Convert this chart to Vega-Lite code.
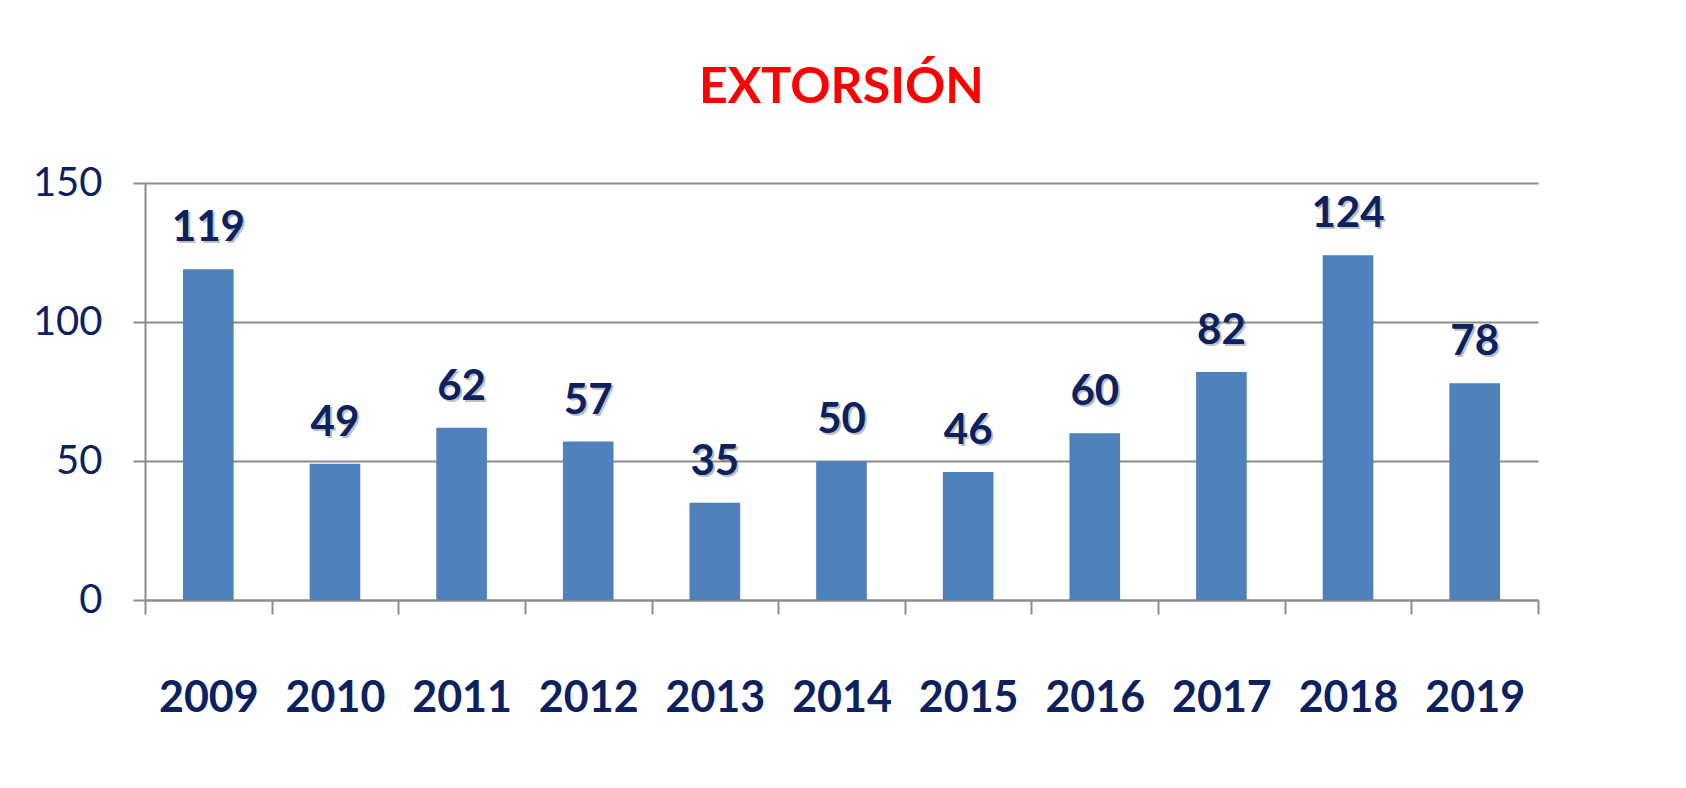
{
  "$schema": "https://vega.github.io/schema/vega-lite/v6.json",
  "width": 1393,
  "height": 417,
  "autosize": {"type": "none"},
  "padding": {"left": 145, "top": 183, "right": 148, "bottom": 188},
  "background": "white",
  "title": {
    "text": "EXTORSIÓN",
    "color": "#FF0000",
    "font": "Lato",
    "fontSize": 50,
    "fontWeight": "bold",
    "anchor": "middle",
    "offset": 50
  },
  "data": {
    "values": [
      {"year": "2009", "value": 119},
      {"year": "2010", "value": 49},
      {"year": "2011", "value": 62},
      {"year": "2012", "value": 57},
      {"year": "2013", "value": 35},
      {"year": "2014", "value": 50},
      {"year": "2015", "value": 46},
      {"year": "2016", "value": 60},
      {"year": "2017", "value": 82},
      {"year": "2018", "value": 124},
      {"year": "2019", "value": 78}
    ]
  },
  "encoding": {
    "x": {
      "field": "year",
      "type": "nominal",
      "sort": null,
      "scale": {"paddingInner": 0, "paddingOuter": 0},
      "axis": {
        "title": null,
        "labelAngle": 0,
        "tickBand": "extent",
        "ticks": true,
        "tickSize": 14,
        "tickWidth": 2,
        "tickColor": "#8c8c8c",
        "domainColor": "#8c8c8c",
        "domainWidth": 2,
        "grid": false,
        "labelFont": "Lato",
        "labelFontSize": 43,
        "labelFontWeight": "bold",
        "labelColor": "#0B2160",
        "labelPadding": 63
      }
    },
    "y": {
      "field": "value",
      "type": "quantitative",
      "scale": {"domain": [0, 150], "nice": false},
      "axis": {
        "title": null,
        "values": [0, 50, 100, 150],
        "grid": true,
        "gridColor": "#8c8c8c",
        "gridWidth": 2,
        "ticks": true,
        "tickSize": 12,
        "tickWidth": 2,
        "tickColor": "#8c8c8c",
        "domainColor": "#8c8c8c",
        "domainWidth": 2,
        "labelFont": "Lato",
        "labelFontSize": 40,
        "labelFontWeight": "normal",
        "labelColor": "#0B2160",
        "labelPadding": 31
      }
    }
  },
  "layer": [
    {"mark": {"type": "bar", "color": "#4F81BD", "width": {"band": 0.4}}},
    {
      "mark": {
        "type": "text",
        "baseline": "alphabetic",
        "dy": -26,
        "dx": 2,
        "color": "#000000",
        "opacity": 0.25,
        "font": "Lato",
        "fontSize": 42,
        "fontWeight": "bold"
      },
      "encoding": {"text": {"field": "value", "type": "quantitative"}}
    },
    {
      "mark": {
        "type": "text",
        "baseline": "alphabetic",
        "dy": -28,
        "color": "#0B2160",
        "font": "Lato",
        "fontSize": 42,
        "fontWeight": "bold"
      },
      "encoding": {"text": {"field": "value", "type": "quantitative"}}
    }
  ],
  "config": {"view": {"stroke": null}}
}
